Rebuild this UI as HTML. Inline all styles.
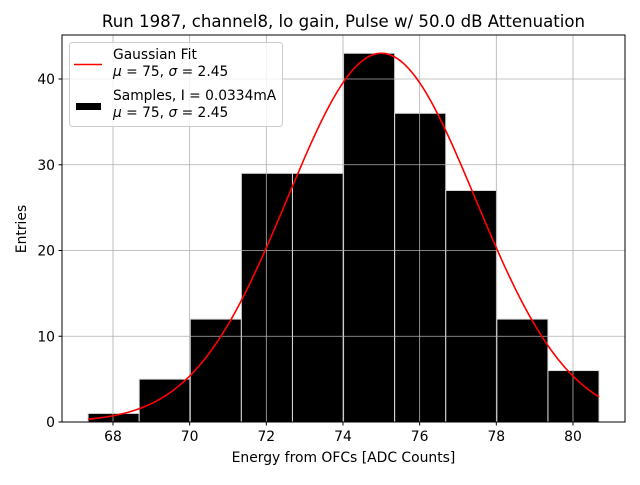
<!DOCTYPE html>
<html><head><meta charset="utf-8"><style>
body{margin:0;background:#fff;}
svg text{font-family:"DejaVu Sans","Liberation Sans",sans-serif;}
</style></head><body>
<svg width="640" height="480" xmlns="http://www.w3.org/2000/svg">
<rect width="640" height="480" fill="#fff"/>
<g id="bars"></g>
<g id="grid"></g>
<path id="fit" fill="none" stroke="#ff0000" stroke-width="1.6"/>
<rect x="62" y="35" width="563" height="387" fill="none" stroke="#000" stroke-width="1"/>
<g id="ticks"></g>
<text x="343.5" y="27" font-size="16.6" text-anchor="middle">Run 1987, channel8, lo gain, Pulse w/ 50.0 dB Attenuation</text>
<text x="343.5" y="462" font-size="13.9" text-anchor="middle">Energy from OFCs [ADC Counts]</text>
<text x="0" y="0" font-size="13.9" text-anchor="middle" transform="translate(26,229) rotate(-90)">Entries</text>
<g>
<rect x="69.5" y="42.5" width="213" height="84" rx="3" fill="#fff" fill-opacity="0.8" stroke="#ccc"/>
<line x1="74" y1="64.5" x2="102" y2="64.5" stroke="#ff0000" stroke-width="1.6"/>
<text x="113" y="59" font-size="13.8">Gaussian Fit</text>
<text x="113" y="76" font-size="13.8"><tspan font-style="italic">μ</tspan> = 75, <tspan font-style="italic">σ</tspan> = 2.45</text>
<rect x="76" y="103" width="25" height="7" fill="#000"/>
<text x="113" y="100" font-size="13.8">Samples, I = 0.0334mA</text>
<text x="113" y="117" font-size="13.8"><tspan font-style="italic">μ</tspan> = 75, <tspan font-style="italic">σ</tspan> = 2.45</text>
</g>
</svg>
<script>
const binStart = 67.35;
const binWidth = 1.333;
const counts = [1,5,12,29,29,43,36,27,12,6];
const xTicks = [68,70,72,74,76,78,80];
const yTicks = [0,10,20,30,40];
const fitMu = 75, fitSigma = 2.45, fitAmp = 43;
const NS = "http://www.w3.org/2000/svg";
const X = v => 62 + (v - 66.67) * (460/12);
const Y = v => 422 - v * 8.575;
function mk(tag, attrs, parent){const e=document.createElementNS(NS,tag);for(const k in attrs)e.setAttribute(k,attrs[k]);parent.appendChild(e);return e;}
const bars=document.getElementById('bars');
counts.forEach((c,i)=>{
  const x0=X(binStart+i*binWidth), x1=X(binStart+(i+1)*binWidth);
  const r=mk('rect',{x:x0,y:Y(c),width:x1-x0,height:Y(0)-Y(c),fill:'#000',stroke:'#ddd','stroke-width':1},bars);
  
  
});
const grid=document.getElementById('grid'), ticks=document.getElementById('ticks');
xTicks.forEach(t=>{
  const g=mk('line',{x1:X(t),x2:X(t),y1:35,y2:422,stroke:'#b0b0b0','stroke-width':0.8},grid);
  
  
  mk('line',{x1:X(t),x2:X(t),y1:422,y2:425.5,stroke:'#000'},ticks);
  const tx=mk('text',{x:X(t),y:441,'font-size':13.9,'text-anchor':'middle'},ticks);
  tx.textContent=t;
  
  
});
yTicks.forEach(t=>{
  const g=mk('line',{x1:62,x2:625,y1:Y(t),y2:Y(t),stroke:'#b0b0b0','stroke-width':0.8},grid);
  
  
  mk('line',{x1:58.5,x2:62,y1:Y(t),y2:Y(t),stroke:'#000'},ticks);
  const tx=mk('text',{x:55,y:Y(t)+5,'font-size':13.9,'text-anchor':'end'},ticks);
  tx.textContent=t;
  
  
});
let d='';
const xa=binStart, xb=binStart+counts.length*binWidth;
for(let i=0;i<=200;i++){
  const v=xa+(xb-xa)*i/200;
  const y=fitAmp*Math.exp(-Math.pow(v-fitMu,2)/(2*fitSigma*fitSigma));
  d+=(i?'L':'M')+X(v).toFixed(2)+' '+Y(y).toFixed(2);
}
document.getElementById('fit').setAttribute('d',d);
</script>
</body></html>
